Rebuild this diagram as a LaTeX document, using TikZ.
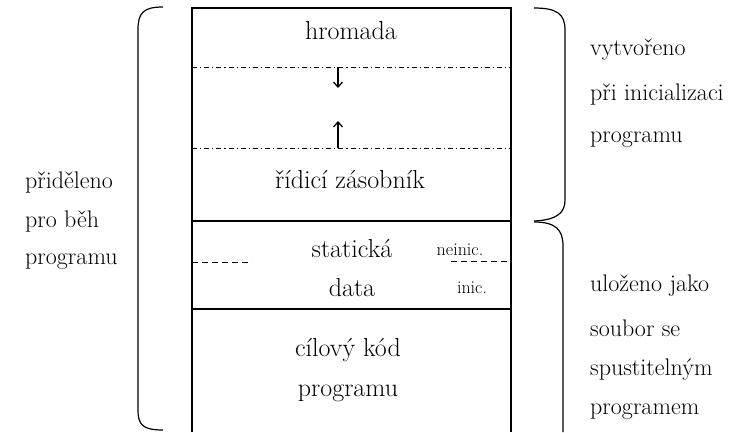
\documentclass[tikz,border=0pt]{standalone}
\usepackage{fontspec}
\usetikzlibrary{arrows.meta}
\begin{document}
\begin{tikzpicture}[x=1pt,y=-1pt,
	txt/.style={inner sep=0pt,font=\fontsize{26}{30}\selectfont},
	sidetxt/.style={inner sep=0pt,anchor=west,font=\fontsize{24}{28}\selectfont},
	small/.style={inner sep=0pt,font=\fontsize{18}{21}\selectfont},
	divider/.style={line width=1.8pt},
	gap/.style={line width=0.8pt,dash pattern=on 5pt off 3pt on 1.2pt off 3pt},
	split/.style={line width=0.8pt,dash pattern=on 6pt off 4pt},
	growarrow/.style={line width=1.3pt,-{Straight Barb[length=5pt,width=9pt]}},
	brace/.style={line width=1.2pt}]
	\useasboundingbox (0,0) rectangle (736,432);
	% memory block, open at the bottom
	\draw [line width=1.3pt] (192,432) -- (192,8) -- (511,8) -- (511,432);
	\draw [divider] (192,221) -- (511,221);
	\draw [divider] (192,309) -- (511,309);
	\draw [gap] (192,67) -- (511,67);
	\draw [gap] (192,148) -- (511,148);
	\draw [split] (192,262) -- (252,262);
	\draw [split] (451,261) -- (511,261);
	% segments
	\node [txt] (heap) at (351,31) {hromada};
	\node [txt] (stack) at (350,180) {řídicí zásobník};
	\node [txt] (stat) at (352,249) {statická};
	\node [txt] (data) at (352,288) {data};
	\node [small] (uninit) at (460,250) {neinic.};
	\node [small] (init) at (472,288) {inic.};
	\node [txt] (code) at (348,350) {cílový kód};
	\node [txt] (prog) at (348,393) {programu};
	% growth of heap and stack
	\coordinate (heapedge) at (338,67);
	\coordinate (heapend) at (338,88);
	\coordinate (stackedge) at (338,148);
	\coordinate (stackend) at (338,121);
	\draw [growarrow] (heapedge) -- (heapend);
	\draw [growarrow] (stackedge) -- (stackend);
	% braces
	\draw [brace] (163,7) .. controls (143,7) and (138,13) .. (138,30) -- (138,410)
		.. controls (138,425) and (143,430) .. (163,430);
	\draw [brace] (534,8) .. controls (557,8) and (565,14) .. (565,30) -- (565,200)
		.. controls (565,212) and (558,220) .. (534,221);
	\draw [brace] (534,222) .. controls (556,222) and (563,230) .. (563,246) -- (563,432);
	% side labels
	\node [sidetxt] (alloc1) at (25,183) {přiděleno};
	\node [sidetxt] (alloc2) at (25,222) {pro běh};
	\node [sidetxt] (alloc3) at (25,262) {programu};
	\node [sidetxt] (made1) at (590,50) {vytvořeno};
	\node [sidetxt] (made2) at (590,95) {při inicializaci};
	\node [sidetxt] (made3) at (590,140) {programu};
	\node [sidetxt] (file1) at (590,286) {uloženo jako};
	\node [sidetxt] (file2) at (590,328) {soubor se};
	\node [sidetxt] (file3) at (590,370) {spustitelným};
	\node [sidetxt] (file4) at (590,412) {programem};
\end{tikzpicture}
\end{document}
